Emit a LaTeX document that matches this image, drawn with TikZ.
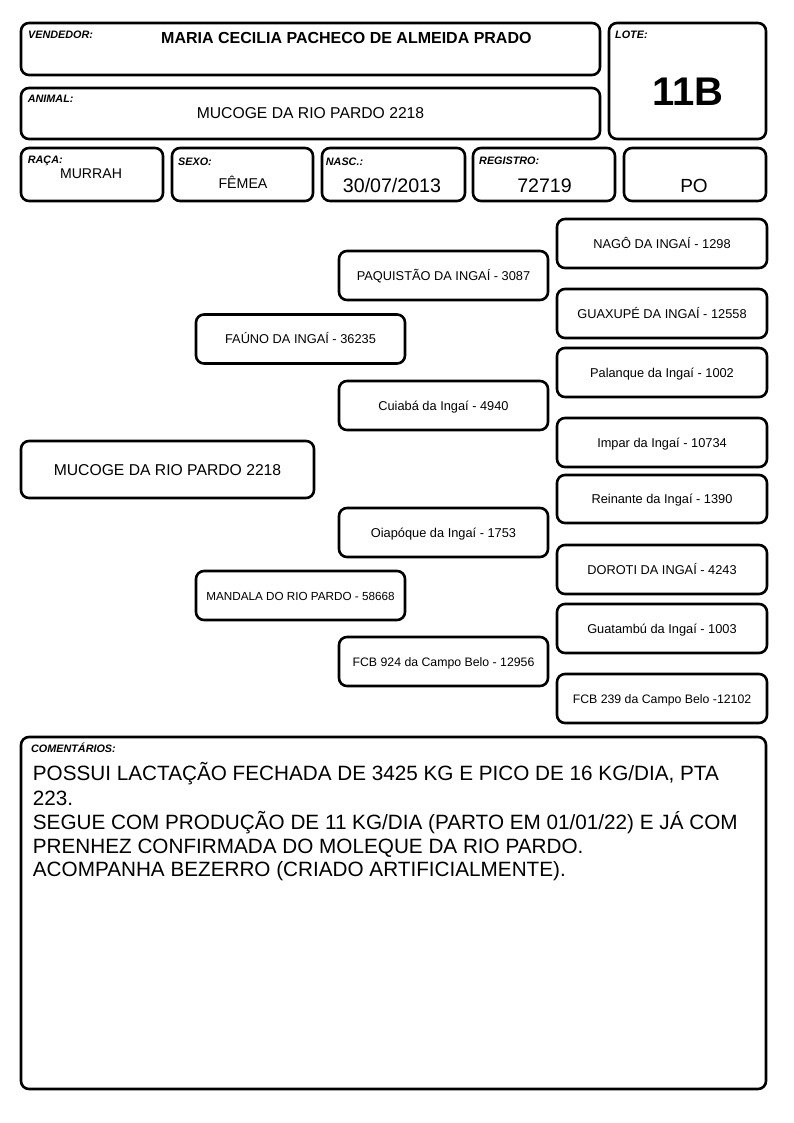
\documentclass[tikz,border=0pt]{standalone}
\usepackage{fontspec}
\setmainfont{Liberation Sans}
\newcommand{\fs}[1]{\fontsize{#1}{#1}\selectfont}
\begin{document}
\begin{tikzpicture}[x=1pt,y=-1pt,
  box/.style={draw, line width=2.6pt, rounded corners=8pt, inner sep=0pt},
  lbl/.style={font=\bfseries\itshape\fs{10.8}, inner sep=0pt, anchor=base west},
  val/.style={inner sep=0pt, anchor=base},
  pbox/.style={box, minimum width=209pt, minimum height=49pt, font=\fs{12.8}, text height=9pt, text depth=0pt}]
\useasboundingbox (0,0) rectangle (794,1123);
\fill[white] (0,0) rectangle (794,1123);
% header boxes
\node[box, minimum width=579pt, minimum height=52pt] (vend) at (310.5,49) {};
\node[box, minimum width=579pt, minimum height=51pt] (anim) at (310.5,113.5) {};
\node[box, minimum width=157pt, minimum height=116pt] (lote) at (687.5,81) {};
\node[box, minimum width=142pt, minimum height=53pt] (raca) at (92,174.5) {};
\node[box, minimum width=141pt, minimum height=53pt] (sexo) at (242.5,174.5) {};
\node[box, minimum width=143pt, minimum height=53pt] (nasc) at (393.5,174.5) {};
\node[box, minimum width=142pt, minimum height=53pt] (reg) at (544,174.5) {};
\node[box, minimum width=142pt, minimum height=53pt] (po) at (695,174.5) {};
\node[box, minimum width=745pt, minimum height=352pt] (com) at (393.5,913) {};
% labels
\node[lbl] (vendl) at (28,39) {VENDEDOR:};
\node[lbl] (animl) at (27.7,102.5) {ANIMAL:};
\node[lbl] (lotel) at (615,39) {LOTE:};
\node[lbl] (racal) at (27.7,163.5) {RAÇA:};
\node[lbl] (sexol) at (178,165.7) {SEXO:};
\node[lbl] (nascl) at (325.7,165.7) {NASC.:};
\node[lbl] (regl) at (479,165) {REGISTRO:};
\node[lbl] (coml) at (31,752.7) {COMENTÁRIOS:};
% values
\node[val, anchor=base west, font=\bfseries\fs{16}] (vendv) at (161,43.3) {MARIA CECILIA PACHECO DE ALMEIDA PRADO};
\node[val, font=\fs{15.7}] (animv) at (310.5,119) {MUCOGE DA RIO PARDO 2218};
\node[val, font=\bfseries\fs{40}] (lotev) at (687.7,105.7) {11B};
\node[val, font=\fs{14.1}] (racav) at (91,178.3) {MURRAH};
\node[val, font=\fs{14.2}] (sexov) at (243,189) {FÊMEA};
\node[val, font=\fs{19.6}] (nascv) at (392,192.3) {30/07/2013};
\node[val, font=\fs{19.6}] (regv) at (544.5,192.3) {72719};
\node[val, font=\fs{19}] (pov) at (694,192.3) {PO};
% pedigree
\node[box, minimum width=293pt, minimum height=57pt, font=\fs{15.7}, text height=11pt, text depth=0pt] (p0) at (167.5,469.5) {MUCOGE DA RIO PARDO 2218};
\node[pbox] (p1a) at (300.5,339) {FAÚNO DA INGAÍ - 36235};
\node[pbox, font=\fs{11.7}] (p1b) at (300.5,595.5) {MANDALA DO RIO PARDO - 58668};
\node[pbox] (p2a) at (443.5,275.5) {PAQUISTÃO DA INGAÍ - 3087};
\node[pbox] (p2b) at (443.5,405.5) {Cuiabá da Ingaí - 4940};
\node[pbox] (p2c) at (443.5,532.5) {Oiapóque da Ingaí - 1753};
\node[pbox, font=\fs{12.3}] (p2d) at (443.5,661.5) {FCB 924 da Campo Belo - 12956};
\node[pbox, minimum width=210pt] (p3a) at (662,243.5) {NAGÔ DA INGAÍ - 1298};
\node[pbox, minimum width=210pt] (p3b) at (662,313.5) {GUAXUPÉ DA INGAÍ - 12558};
\node[pbox, minimum width=210pt] (p3c) at (662,372.5) {Palanque da Ingaí - 1002};
\node[pbox, minimum width=210pt] (p3d) at (662,442.5) {Impar da Ingaí - 10734};
\node[pbox, minimum width=210pt, minimum height=48pt] (p3e) at (662,499) {Reinante da Ingaí - 1390};
\node[pbox, minimum width=210pt] (p3f) at (662,569.5) {DOROTI DA INGAÍ - 4243};
\node[pbox, minimum width=210pt] (p3g) at (662,628.5) {Guatambú da Ingaí - 1003};
\node[pbox, minimum width=210pt, font=\fs{12.3}] (p3h) at (662,698.5) {FCB 239 da Campo Belo -12102};
% comments
\node[val, anchor=base west, font=\fs{20.7}] (c1) at (32.7,780.7) {POSSUI LACTAÇÃO FECHADA DE 3425 KG E PICO DE 16 KG/DIA, PTA};
\node[val, anchor=base west, font=\fs{20.7}] (c2) at (32.7,805) {223.};
\node[val, anchor=base west, font=\fs{20.7}] (c3) at (32.7,829.3) {SEGUE COM PRODUÇÃO DE 11 KG/DIA (PARTO EM 01/01/22) E JÁ COM};
\node[val, anchor=base west, font=\fs{20.7}] (c4) at (32.7,853.3) {PRENHEZ CONFIRMADA DO MOLEQUE DA RIO PARDO.};
\node[val, anchor=base west, font=\fs{20.7}] (c5) at (32.7,876.7) {ACOMPANHA BEZERRO (CRIADO ARTIFICIALMENTE).};
\end{tikzpicture}
\end{document}
